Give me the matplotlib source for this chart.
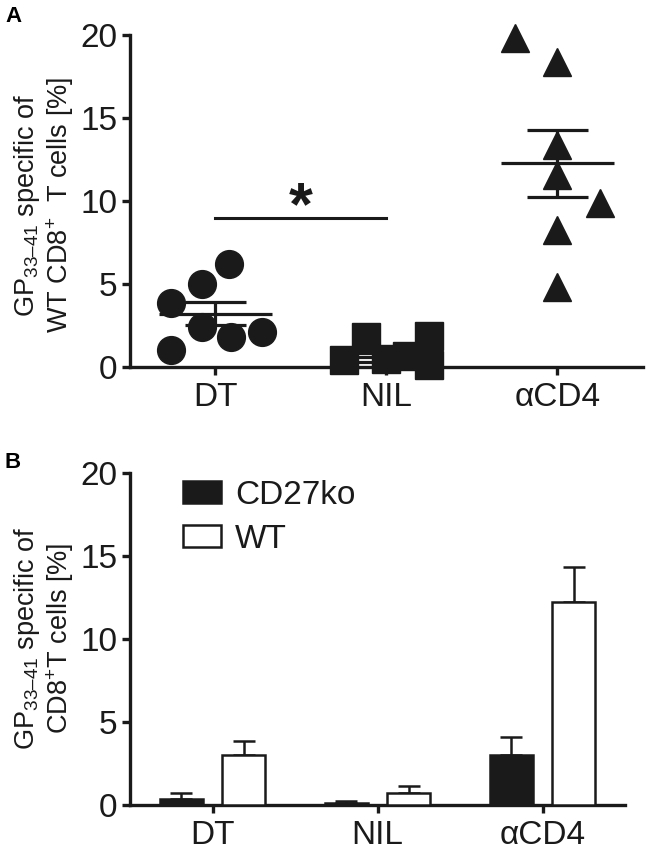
import numpy as np
import matplotlib
matplotlib.use("Agg")
import matplotlib.pyplot as plt

plt.rcParams['font.family'] = ['Liberation Sans', 'DejaVu Sans']
plt.rcParams['mathtext.fontset'] = 'custom'
plt.rcParams['mathtext.rm'] = 'Liberation Sans'
plt.rcParams['mathtext.it'] = 'Liberation Sans:italic'
plt.rcParams['mathtext.bf'] = 'Liberation Sans:bold'
plt.rcParams['mathtext.default'] = 'regular'

ink = '#1a1a1a'

# panel A: individual mice
groups = ["DT", "NIL", "\u03b1CD4"]
dt_vals = [3.86, 5.03, 6.23, 2.41, 1.81, 2.11, 1.05]
nil_vals = [0.44, 1.81, 0.47, 0.66, 1.85, 0.14]
acd4_vals = [19.79, 18.39, 13.39, 11.58, 9.85, 8.24, 4.84]
a_mean = [3.22, 0.60, 12.28]
a_sem = [0.67, 0.27, 2.02]

# panel B: group means with SEM
b_ko = [0.34, 0.10, 3.01]
b_ko_err = [0.40, 0.16, 1.07]
b_wt = [3.01, 0.74, 12.20]
b_wt_err = [0.85, 0.40, 2.14]

# horizontal scatter of points inside each group
dt_jit = [-0.26, -0.08, 0.08, -0.08, 0.09, 0.27, -0.26]
nil_jit = [-0.25, -0.12, 0.0, 0.12, 0.25, 0.25]
acd4_jit = [-0.25, 0.0, 0.0, 0.0, 0.25, 0.0, 0.0]

fig = plt.figure(figsize=(6.5, 8.52), dpi=100)
W, H = 650.0, 852.0


def style_axis(ax):
    for s in ['top', 'right']:
        ax.spines[s].set_visible(False)
    for s in ['left', 'bottom']:
        ax.spines[s].set_linewidth(2.4)
        ax.spines[s].set_color(ink)
    ax.tick_params(axis='both', width=2.4, length=6, color=ink,
                   labelsize=24, labelcolor=ink)
    ax.tick_params(axis='y', pad=3)
    ax.tick_params(axis='x', pad=5)
    ax.set_ylim(0, 20)
    ax.set_yticks([0, 5, 10, 15, 20])
    ax.set_xlim(-0.5, 2.5)
    ax.set_xticks(range(3))
    ax.set_xticklabels(groups)


# ---------- A ----------
axA = fig.add_axes([130 / W, 1 - 367 / H, 513 / W, 332 / H])
style_axis(axA)

mk = dict(color=ink, markersize=20, linestyle='none', clip_on=False, zorder=3)
axA.plot(np.array(dt_jit) + 0, dt_vals, marker='o', **mk)
axA.plot(np.array(nil_jit) + 1, nil_vals, marker='s', **mk)
axA.plot(np.array(acd4_jit) + 2, acd4_vals, marker='^', **mk)

for i in range(3):
    axA.hlines(a_mean[i], i - 0.33, i + 0.33, color=ink, lw=2.3, zorder=4)
    axA.hlines([a_mean[i] - a_sem[i], a_mean[i] + a_sem[i]], i - 0.18, i + 0.18,
               color=ink, lw=2.3, zorder=4)
    axA.vlines(i, a_mean[i] - a_sem[i], a_mean[i] + a_sem[i], color=ink, lw=2.3, zorder=4)

axA.plot([0, 1], [9.0, 9.0], color=ink, lw=2.2)
axA.text(0.5, 9.55, "*", fontsize=44, fontweight='bold', color=ink,
         ha='center', va='center')

fig.text(44 / W, 1 - 205 / H,
         "GP$_{33\u201341}$ specific of\nWT CD8$^{+}$  T cells [%]",
         rotation=90, ha='center', va='center', fontsize=19.5, color=ink,
         linespacing=1.12)
fig.text(5 / W, 1 - 17 / H, "A", fontsize=16, fontweight='bold', ha='left', va='center')

# ---------- B ----------
axB = fig.add_axes([130 / W, 1 - 805 / H, 495 / W, 332 / H])
style_axis(axB)

x = np.arange(3)
bw = 0.26
off = 0.19
axB.bar(x - off, b_ko, bw, color=ink, edgecolor=ink, lw=1.8, label='CD27ko', zorder=3)
axB.bar(x + off, b_wt, bw, color='white', edgecolor=ink, lw=1.8, label='WT', zorder=3)
axB.errorbar(x - off, b_ko, yerr=[np.zeros(3), b_ko_err], fmt='none', ecolor=ink,
             elinewidth=1.8, capsize=8, capthick=1.8, zorder=2)
axB.errorbar(x + off, b_wt, yerr=[np.zeros(3), b_wt_err], fmt='none', ecolor=ink,
             elinewidth=1.8, capsize=8, capthick=1.8, zorder=2)

axB.legend(loc='upper left', bbox_to_anchor=(183 / W, 1 - 480 / H),
           bbox_transform=fig.transFigure, frameon=False, fontsize=24,
           handlelength=1.15, handleheight=0.65, handletextpad=0.42,
           labelspacing=0.38, borderpad=0, borderaxespad=0, labelcolor=ink)

fig.text(44 / W, 1 - 638 / H,
         "GP$_{33\u201341}$ specific of\nCD8$^{+}$T cells [%]",
         rotation=90, ha='center', va='center', fontsize=19.5, color=ink,
         linespacing=1.12)
fig.text(5 / W, 1 - 463 / H, "B", fontsize=16, fontweight='bold', ha='left', va='center')

fig.savefig("out.png", dpi=100)
